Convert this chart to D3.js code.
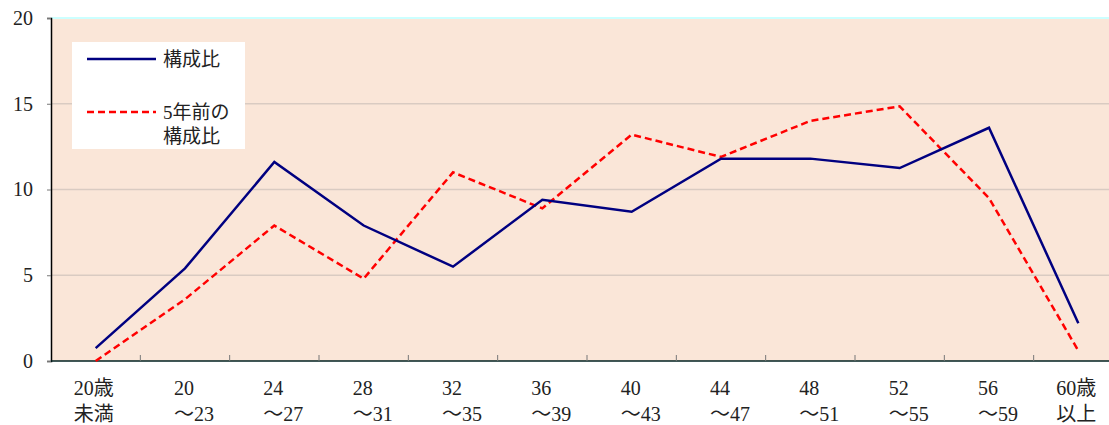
<!DOCTYPE html>
<html>
<head>
<meta charset="utf-8">
<script src="https://cdn.jsdelivr.net/npm/d3@7"></script>
<style>
  body { margin: 0; background: #fff; }
  text { font-family: "Liberation Serif", "Noto Sans CJK JP", serif; fill: #222; }
</style>
</head>
<body>
<svg id="chart" width="1109" height="425"></svg>
<script>
// age bands (two label lines each)
const labelTop = ['20歳', '20', '24', '28', '32', '36', '40', '44', '48', '52', '56', '60歳'];
const labelBottom = ['未満', '～23', '～27', '～31', '～35', '～39', '～43', '～47', '～51', '～55', '～59', '以上'];
const categories = labelTop.map((t, i) => `${t}${labelBottom[i]}`);

// share by age, now and 5 years ago (%)
const current = [0.75, 5.4, 11.6, 7.9, 5.5, 9.4, 8.7, 11.8, 11.8, 11.25, 13.6, 2.2];
const fiveYearsAgo = [0.0, 3.6, 7.9, 4.8, 11.0, 8.9, 13.2, 11.9, 14.0, 14.85, 9.5, 0.6];

const yTicks = [0, 5, 10, 15, 20];

const svg = d3.select('#chart');
const plot = { left: 51, top: 18, bottom: 361, right: 1123 };

const x = d3.scaleBand()
  .domain(categories)
  .range([plot.left, plot.right]);
const y = d3.scaleLinear()
  .domain([0, 20])
  .range([plot.bottom, plot.top]);

// plot background
svg.append('rect')
  .attr('x', plot.left)
  .attr('y', plot.top)
  .attr('width', plot.right - plot.left)
  .attr('height', plot.bottom - plot.top)
  .attr('fill', '#fae6d8');

// gridlines
svg.append('g')
  .selectAll('line')
  .data(yTicks.filter(d => d > 0 && d < 20))
  .enter()
  .append('line')
  .attr('x1', plot.left)
  .attr('x2', plot.right)
  .attr('y1', d => y(d))
  .attr('y2', d => y(d))
  .attr('stroke', '#d9cbc2')
  .attr('stroke-width', 1.5);

// top border
svg.append('line')
  .attr('x1', plot.left)
  .attr('x2', plot.right)
  .attr('y1', plot.top)
  .attr('y2', plot.top)
  .attr('stroke', '#ccffff')
  .attr('stroke-width', 2);

// y axis
const yAxis = svg.append('g')
  .attr('transform', `translate(${plot.left},0)`)
  .call(d3.axisLeft(y).tickValues(yTicks).tickSize(4).tickPadding(14));
yAxis.select('.domain').attr('stroke', '#000').attr('stroke-width', 1.5);
yAxis.selectAll('.tick line').attr('stroke', '#777');
yAxis.selectAll('.tick text')
  .attr('font-size', 20)
  .attr('font-family', '"Liberation Serif", serif')
  .attr('fill', '#222');

// x axis: ticks between categories
const xAxis = svg.append('g');
xAxis.append('line')
  .attr('x1', plot.left)
  .attr('x2', plot.right)
  .attr('y1', plot.bottom)
  .attr('y2', plot.bottom)
  .attr('stroke', '#002020')
  .attr('stroke-width', 1.5);
xAxis.selectAll('line.tick')
  .data(categories.slice(1))
  .enter()
  .append('line')
  .attr('class', 'tick')
  .attr('x1', d => x(d))
  .attr('x2', d => x(d))
  .attr('y1', plot.bottom)
  .attr('y2', plot.bottom - 6)
  .attr('stroke', '#777');

const labelX = (d, i) => x(d) + x.bandwidth() / 2 + (labelTop[i].includes('歳') ? -22 : -11);
xAxis.selectAll('text.top')
  .data(categories)
  .enter()
  .append('text')
  .attr('class', 'top')
  .attr('x', labelX)
  .attr('y', 395)
  .attr('font-size', 20)
  .text((d, i) => labelTop[i]);
xAxis.selectAll('text.bottom')
  .data(categories)
  .enter()
  .append('text')
  .attr('class', 'bottom')
  .attr('x', labelX)
  .attr('y', 421)
  .attr('font-size', 20)
  .text((d, i) => labelBottom[i]);

// series
const line = d3.line()
  .x((d, i) => x(categories[i]) + x.bandwidth() / 2)
  .y(d => y(d));

svg.append('path')
  .datum(fiveYearsAgo)
  .attr('d', line)
  .attr('fill', 'none')
  .attr('stroke', '#ff0000')
  .attr('stroke-width', 2.5)
  .attr('stroke-dasharray', '7,4');

svg.append('path')
  .datum(current)
  .attr('d', line)
  .attr('fill', 'none')
  .attr('stroke', '#000080')
  .attr('stroke-width', 2.5);

// legend
const legend = svg.append('g');
legend.append('rect')
  .attr('x', 72)
  .attr('y', 42)
  .attr('width', 173)
  .attr('height', 107)
  .attr('fill', '#fff');
legend.append('line')
  .attr('x1', 87).attr('x2', 156)
  .attr('y1', 59).attr('y2', 59)
  .attr('stroke', '#000080')
  .attr('stroke-width', 2.5);
legend.append('line')
  .attr('x1', 87).attr('x2', 156)
  .attr('y1', 112).attr('y2', 112)
  .attr('stroke', '#ff0000')
  .attr('stroke-width', 2.5)
  .attr('stroke-dasharray', '7,4');
legend.append('text')
  .attr('x', 163).attr('y', 66)
  .attr('font-size', 19)
  .text('構成比');
legend.append('text')
  .attr('x', 163).attr('y', 119)
  .attr('font-size', 19)
  .text('5年前の');
legend.append('text')
  .attr('x', 163).attr('y', 143)
  .attr('font-size', 19)
  .text('構成比');
</script>
</body>
</html>
